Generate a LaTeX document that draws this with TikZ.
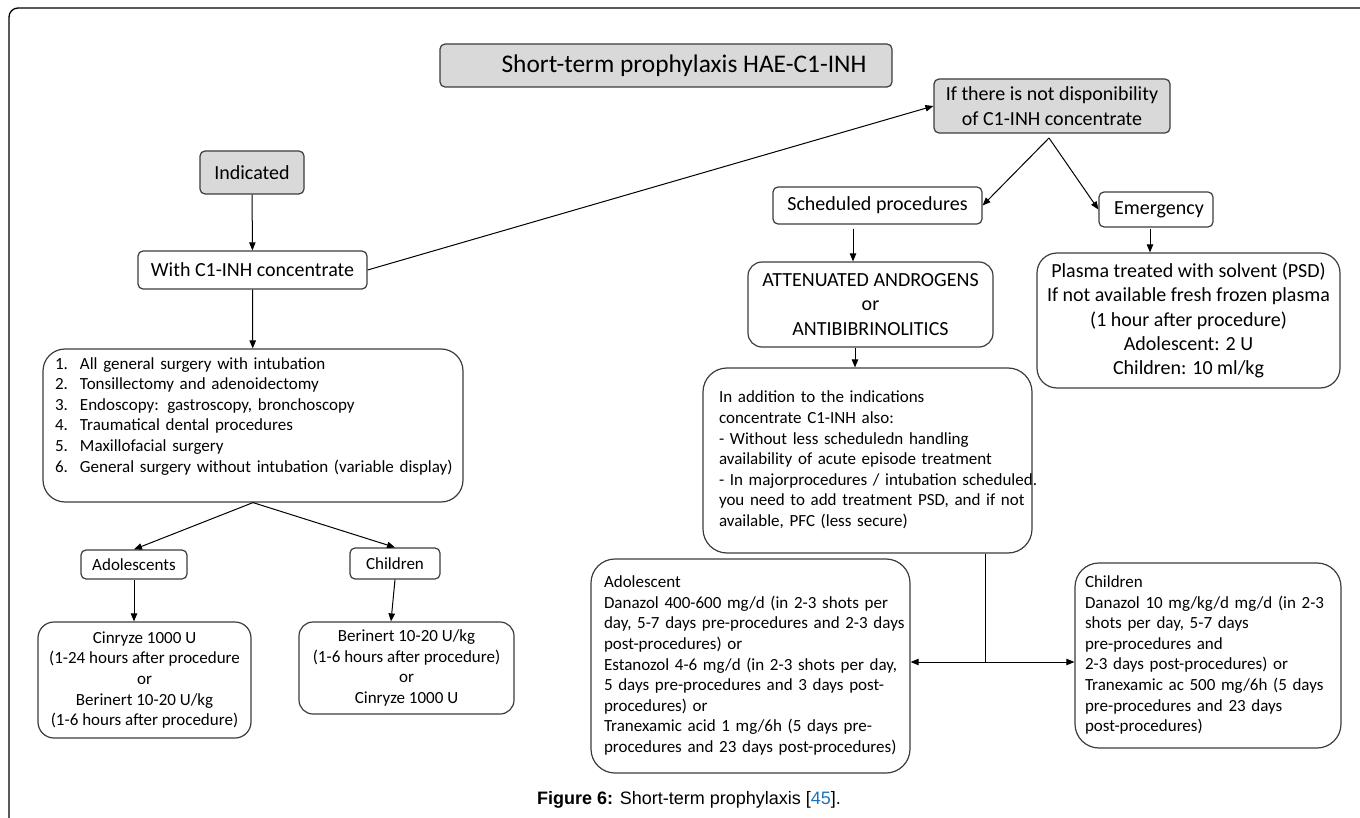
\documentclass[tikz,border=0pt]{standalone}
\usepackage{fontspec}
\setmainfont{Carlito}
\newfontfamily\figfont{Liberation Sans}
\usetikzlibrary{arrows.meta}
\definecolor{boxgray}{RGB}{217,217,217}
\definecolor{linegray}{RGB}{60,60,60}
\definecolor{refblue}{RGB}{30,115,190}

\begin{document}
\begin{tikzpicture}[
    x=0.5pt, y=-0.5pt,
    >={Triangle[length=4pt,width=3.2pt]},
    every node/.style={inner sep=1pt},
    box/.style={draw=linegray, line width=0.6pt, rounded corners=2.5pt, font=\fontsize{10}{12.2}\selectfont, align=center},
    smallbox/.style={box, font=\fontsize{8.5}{10.3}\selectfont},
    roundbox/.style={draw=linegray, line width=0.6pt, rounded corners=11pt, font=\fontsize{8.5}{10.3}\selectfont},
    shaded/.style={fill=boxgray},
    link/.style={->, line width=0.5pt}
]
\useasboundingbox (0,0) rectangle (1360,818);
\draw[line width=0.65pt, rounded corners=4.5pt] (1360,8) -- (9,8) -- (9,818);

% top row
\node[box, shaded, minimum width=226pt, minimum height=21.5pt, font=\fontsize{12.7}{15}\selectfont] (title) at (666,65.5) {\hspace*{18pt}Short-term prophylaxis HAE-C1-INH};
\node[box, shaded, minimum width=118pt, minimum height=27pt] (ifnot) at (1052,106) {If there is not disponibility\\of C1-INH concentrate};
\node[box, shaded, minimum width=52pt, minimum height=21.5pt] (indicated) at (252,172.5) {Indicated};
\node[box, minimum width=114.5pt, minimum height=19pt] (withc) at (252.5,270) {With C1-INH concentrate};
\node[box, minimum width=104.5pt, minimum height=18.5pt] (sched) at (877.5,205.5) {Scheduled procedures};
\node[box, minimum width=57pt, minimum height=17.5pt] (emerg) at (1156,209.5) {\hspace*{3pt}Emergency};
\node[box, rounded corners=7pt, minimum width=122.5pt, minimum height=42.5pt] (androg) at (870.5,304.5) {ATTENUATED ANDROGENS\\or\\ANTIBIBRINOLITICS};
\node[box, rounded corners=10pt, minimum width=151.5pt, minimum height=67.5pt] (plasma) at (1188.5,320.5) {Plasma treated  with solvent (PSD)\\If not available fresh frozen plasma\\(1 hour after procedure)\\Adolescent: 2 U\\Children: 10 ml/kg};

% left branch
\node[roundbox, text width=198pt, inner xsep=6pt, minimum height=76.5pt, align=left] (list) at (253,425.5) {\begin{tabular}{@{}l@{}}
\makebox[12.5pt][l]{1.}All general surgery with intubation\\
\makebox[12.5pt][l]{2.}Tonsillectomy and adenoidectomy\\
\makebox[12.5pt][l]{3.}Endoscopy: gastroscopy, bronchoscopy\\
\makebox[12.5pt][l]{4.}Traumatical dental procedures\\
\makebox[12.5pt][l]{5.}Maxillofacial surgery\\
\makebox[12.5pt][l]{6.}General surgery without  intubation  (variable display)\\[9pt]
\end{tabular}};
\node[smallbox, minimum width=53pt, minimum height=14.5pt] (adol) at (134,564.5) {Adolescents};
\node[smallbox, minimum width=45pt, minimum height=15.5pt] (child) at (395,563.5) {Children};
\node[roundbox, align=center, rounded corners=8pt, minimum width=106.5pt, minimum height=58pt] (cinryze) at (144.5,680) {Cinryze 1000 U\\(1-24 hours after procedure\\or\\Berinert 10-20 U/kg\\(1-6 hours after procedure)};
\node[roundbox, align=center, rounded corners=7pt, minimum width=107.5pt, minimum height=46pt] (ber) at (406.5,668) {Berinert 10-20 U/kg\\(1-6 hours after procedure)\\or\\Cinryze 1000 U};

% right branch
\node[roundbox, rounded corners=12pt, text width=148.5pt, inner xsep=8pt, minimum height=92.5pt, align=left] (middle) at (867.5,460.5) {\begin{tabular}{@{}l@{}}
In addition to the indications\\
concentrate C1-INH also:\\
- Without  less scheduledn handling\\
availability of acute episode treatment\\
- In majorprocedures  / intubation scheduled.\\
you need to add treatment  PSD, and if not\\
available, PFC (less secure)
\end{tabular}};
\node[roundbox, rounded corners=12pt, text width=146.5pt, inner xsep=6.5pt, minimum height=107pt, align=left] (adolB) at (750.5,666) {\begin{tabular}{@{}l@{}}
Adolescent\\
Danazol 400-600 mg/d (in 2-3 shots per\\
day, 5-7 days pre-procedures  and 2-3 days\\
post-procedures) or\\
Estanozol 4-6 mg/d (in 2-3 shots per day,\\
5 days pre-procedures  and 3 days post-\\
procedures) or\\
Tranexamic acid 1 mg/6h (5 days pre-\\
procedures  and 23 days post-procedures)
\end{tabular}};
\node[roundbox, rounded corners=12pt, text width=123pt, inner xsep=5pt, minimum height=92.5pt, align=left] (childB) at (1208,655.5) {\begin{tabular}{@{}l@{}}
Children\\
Danazol 10 mg/kg/d mg/d (in 2-3\\
shots per day, 5-7 days\\
pre-procedures  and\\
2-3 days post-procedures) or\\
Tranexamic ac 500 mg/6h  (5 days\\
pre-procedures  and 23 days\\
post-procedures)
\end{tabular}};

\node[font=\figfont\fontsize{9}{11}\selectfont] (caption) at (689,800) {\textbf{Figure 6:} Short-term prophylaxis [{\color{refblue}45}].};

% connectors
\coordinate (split) at (1049,138);
\coordinate (junct) at (985,662);
\draw[link] (indicated) -- (withc);
\draw[link] (withc.east) -- (ifnot.west);
\draw[link] (split) -- (sched.east);
\draw[link] (split) -- (emerg.west);
\draw[link] ([xshift=-12.25pt,yshift=-2pt]sched.south) -- ([xshift=-8.75pt]androg.north);
\draw[link] ([xshift=-3pt,yshift=-0.5pt]emerg.south) -- ([xshift=-19.25pt]plasma.north);
\draw[link] ([xshift=-7.75pt]androg.south) -- ([xshift=-6.25pt]middle.north);
\draw[link] (withc) -- (list);
\draw[link] (list.south) -- (adol.north);
\draw[link] (list.south) -- (child.north);
\draw[link] (adol) -- (adol |- cinryze.north);
\draw[link] (child.south) -- ([xshift=-7.75pt]ber.north);
\draw[line width=0.5pt] (junct |- middle.south) -- (junct);
\draw[link, <->] (adolB.east |- junct) -- (childB.west |- junct);

\end{tikzpicture}
\end{document}
